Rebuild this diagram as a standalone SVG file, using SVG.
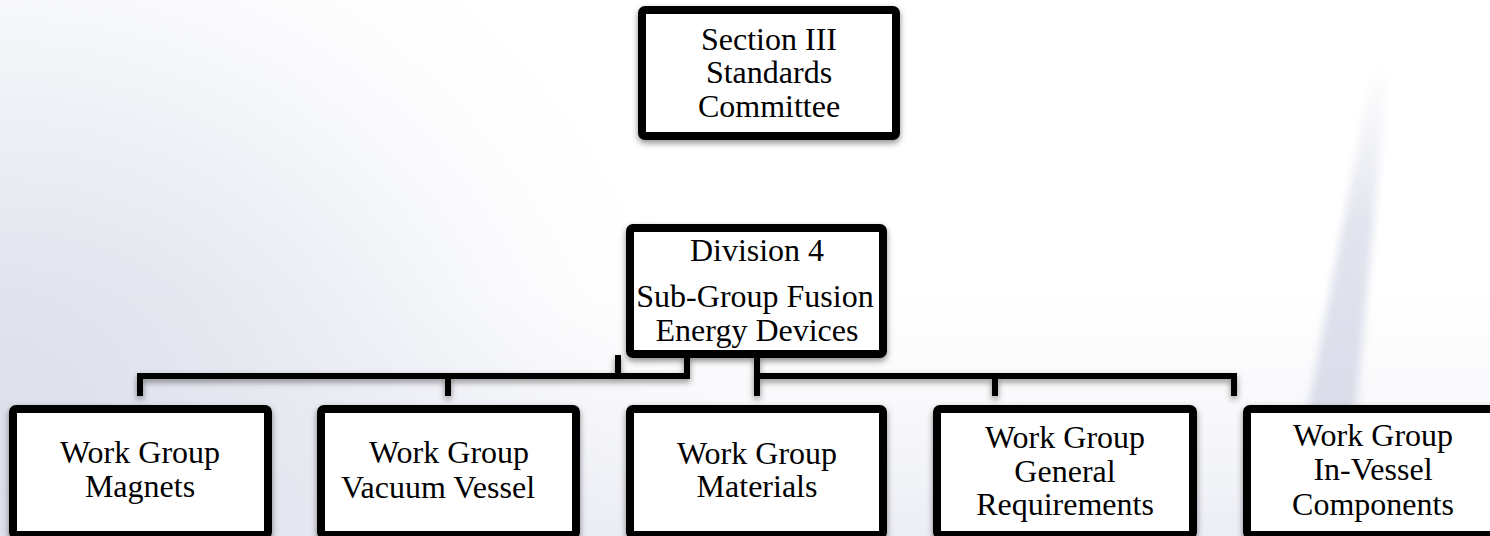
<svg xmlns="http://www.w3.org/2000/svg" width="1490" height="536" viewBox="0 0 1490 536">
  <defs>
    <radialGradient id="bgL" cx="0" cy="536" r="760" gradientUnits="userSpaceOnUse">
      <stop offset="0" stop-color="#cdd0e1"/>
      <stop offset="0.35" stop-color="#e3e5ef"/>
      <stop offset="0.7" stop-color="#f7f8fb"/>
      <stop offset="1" stop-color="#ffffff" stop-opacity="0"/>
    </radialGradient>
    <linearGradient id="bgB" x1="0" y1="290" x2="0" y2="536" gradientUnits="userSpaceOnUse">
      <stop offset="0" stop-color="#eef0f6" stop-opacity="0"/>
      <stop offset="1" stop-color="#e4e6f0" stop-opacity="0.7"/>
    </linearGradient>
    <linearGradient id="streak" x1="0" y1="60" x2="0" y2="536" gradientUnits="userSpaceOnUse">
      <stop offset="0" stop-color="#e6e8f1" stop-opacity="0"/>
      <stop offset="0.35" stop-color="#e2e4ee"/>
      <stop offset="1" stop-color="#d4d7e6"/>
    </linearGradient>
    <filter id="blur" x="-50%" y="-10%" width="200%" height="120%">
      <feGaussianBlur stdDeviation="4"/>
    </filter>
    <filter id="shadow" x="-10%" y="-10%" width="120%" height="130%">
      <feDropShadow dx="0" dy="3" stdDeviation="3" flood-color="#000" flood-opacity="0.45"/>
    </filter>
    <style>
      .box { fill: #ffffff; stroke: #000000; stroke-width: 8; filter: url(#shadow); }
      .lbl { font-family: "Liberation Serif", "Times New Roman", serif; font-size: 32px; fill: #000000; text-anchor: middle; }
      .conn { fill: none; stroke: #000000; stroke-width: 6; stroke-linejoin: miter; stroke-linecap: butt; }
    </style>
  </defs>

  <!-- background -->
  <rect x="0" y="0" width="1490" height="536" fill="#ffffff"/>
  <rect x="0" y="0" width="1490" height="536" fill="url(#bgL)"/>
  <rect x="0" y="290" width="1490" height="246" fill="url(#bgB)"/>
  <polygon points="1372,70 1388,70 1344,536 1284,536" fill="url(#streak)" filter="url(#blur)"/>

  <!-- connectors -->
  <g id="connectors" filter="url(#shadow)">
    <path class="conn" d="M140,396 V376 H687 V356"/>
    <path class="conn" d="M618,376 V355"/>
    <path class="conn" d="M448,376 V396"/>
    <path class="conn" d="M757,356 V396"/>
    <path class="conn" d="M757,376 H1234 V396"/>
    <path class="conn" d="M995,376 V396"/>
  </g>

  <g id="section3">
    <rect class="box" x="642" y="10" width="254" height="126" rx="3"/>
    <text class="lbl" x="769" y="50">Section III</text>
    <text class="lbl" x="769" y="83">Standards</text>
    <text class="lbl" x="769" y="117">Committee</text>
  </g>

  <g id="division4">
    <rect class="box" x="630" y="228" width="253" height="126" rx="3"/>
    <text class="lbl" x="757" y="261">Division 4</text>
    <text class="lbl" x="755" y="307">Sub-Group Fusion</text>
    <text class="lbl" x="757" y="341">Energy Devices</text>
  </g>

  <g id="wg-magnets">
    <rect class="box" x="13" y="409" width="255" height="126" rx="3"/>
    <text class="lbl" x="140" y="463">Work Group</text>
    <text class="lbl" x="140" y="497">Magnets</text>
  </g>

  <g id="wg-vacuum-vessel">
    <rect class="box" x="321" y="409" width="255" height="126" rx="3"/>
    <text class="lbl" x="449" y="463">Work Group</text>
    <text class="lbl" x="438" y="498">Vacuum Vessel</text>
  </g>

  <g id="wg-materials">
    <rect class="box" x="630" y="409" width="253" height="126" rx="3"/>
    <text class="lbl" x="757" y="464">Work Group</text>
    <text class="lbl" x="757" y="497">Materials</text>
  </g>

  <g id="wg-general-requirements">
    <rect class="box" x="937" y="409" width="256" height="126" rx="3"/>
    <text class="lbl" x="1065" y="448">Work Group</text>
    <text class="lbl" x="1065" y="482">General</text>
    <text class="lbl" x="1065" y="515">Requirements</text>
  </g>

  <g id="wg-in-vessel-components">
    <rect class="box" x="1247" y="409" width="256" height="126" rx="3"/>
    <text class="lbl" x="1373" y="446">Work Group</text>
    <text class="lbl" x="1373" y="480">In-Vessel</text>
    <text class="lbl" x="1373" y="515">Components</text>
  </g>
</svg>
